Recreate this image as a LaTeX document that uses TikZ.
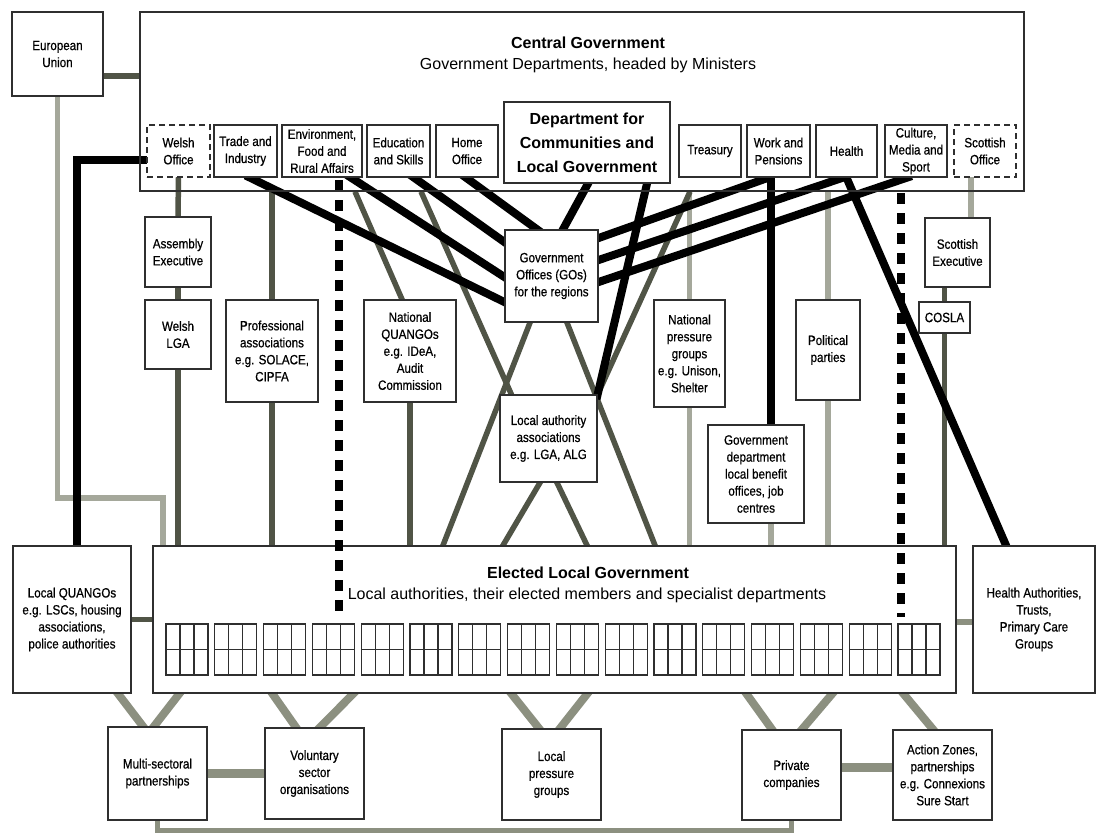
\documentclass[tikz,border=0pt]{standalone}
\usepackage{fontspec}
\setmainfont{Liberation Sans}
\newfontfamily\narrowsf[FakeStretch=0.86,FakeBold=0.6]{Liberation Sans}
\usetikzlibrary{backgrounds}
\definecolor{dk}{HTML}{505446}
\definecolor{lt}{HTML}{A5A89B}
\definecolor{md}{HTML}{8C9080}
\definecolor{bd}{HTML}{2F2F2F}
\tikzset{
  box/.style={draw=bd,line width=1.3pt,fill=white,inner sep=1pt,align=center,
    font=\narrowsf\fontsize{13.5}{17}\selectfont},
  dbox/.style={dash pattern=on 6pt off 4pt},
  dkline/.style={draw=dk,line width=5.5pt},
  ltline/.style={draw=lt,line width=5.5pt},
  mdline/.style={draw=md,line width=8pt},
  blk/.style={draw=black,line width=8pt},
  dotline/.style={draw=black,line width=8.5pt,dash pattern=on 11pt off 9pt},
  xe/.style={shorten >=-5pt},
  xb/.style={shorten >=-5pt,shorten <=-5pt},
  bigt/.style={font=\bfseries\fontsize{16}{24}\selectfont},
  cellgrid/.style={draw=bd,line width=1.1pt}
}
\newcommand\gbox[7][]{%
  \pgfmathsetmacro\myW{#5-#3}\pgfmathsetmacro\myH{#6-#4}%
  \pgfmathsetmacro\myX{(#3+#5)/2}\pgfmathsetmacro\myY{(#4+#6)/2}%
  \node[box,minimum width=\myW pt,minimum height=\myH pt,#1] (#2) at (\myX,\myY) {#7};}
\begin{document}
\begin{tikzpicture}[x=1pt,y=-1pt]
\useasboundingbox (0,0) rectangle (1104,835);
\coordinate (dLa) at (339,180); \coordinate (dLb) at (339,617);
\coordinate (dRa) at (901,193); \coordinate (dRb) at (901,617);
\coordinate (eubend) at (163,498);
\coordinate (wbend) at (77,160);
\coordinate (loopy) at (0,830);
% ---------- top ----------
\gbox{eu}{12}{12}{103}{96}{European\\Union}
\gbox[fill=none]{cg}{140}{12}{1024}{191}{}
\node[bigt] (cgt) at (588,43) {Central Government};
\node[font=\fontsize{16}{19}\selectfont] (cgs) at (588,65) {Government Departments, headed by Ministers};
\gbox[dbox]{wo}{147}{125}{210}{177}{Welsh\\Office}
\gbox{ti}{214}{125}{277}{177}{Trade and\\Industry}
\gbox{env}{282}{125}{362}{177}{Environment,\\Food and\\Rural Affairs}
\gbox{edu}{367}{125}{430}{177}{Education\\and Skills}
\gbox{ho}{436}{125}{498}{177}{Home\\Office}
\gbox[font=\bfseries\fontsize{16}{24}\selectfont]{dclg}{504}{102}{670}{183}{Department for\\Communities and\\Local Government}
\gbox{tr}{679}{125}{741}{177}{Treasury}
\gbox{wp}{747}{125}{810}{177}{Work and\\Pensions}
\gbox{he}{816}{125}{877}{177}{Health}
\gbox{cu}{885}{125}{947}{177}{Culture,\\Media and\\Sport}
\gbox[dbox]{so}{954}{125}{1016}{177}{Scottish\\Office}
% ---------- middle ----------
\gbox{ae}{145}{217}{211}{287}{Assembly\\Executive}
\gbox{wlga}{145}{300}{211}{369}{Welsh\\LGA}
\gbox{pa}{226}{300}{318}{402}{Professional\\associations\\e.g. SOLACE,\\CIPFA}
\gbox{nq}{364}{300}{456}{402}{National\\QUANGOs\\e.g. IDeA,\\Audit\\Commission}
\gbox{go}{505}{230}{598}{322}{Government\\Offices (GOs)\\for the regions}
\gbox{laa}{500}{395}{597}{482}{Local authority\\associations\\e.g. LGA, ALG}
\gbox{npg}{654}{300}{725}{407}{National\\pressure\\groups\\e.g. Unison,\\Shelter}
\gbox{gd}{708}{425}{804}{523}{Government\\department\\local benefit\\offices, job\\centres}
\gbox{pp}{796}{300}{860}{400}{Political\\parties}
\gbox{se}{925}{218}{990}{287}{Scottish\\Executive}
\gbox{cosla}{919}{302}{970}{333}{COSLA}
% ---------- lower ----------
\gbox{lq}{13}{546}{131}{693}{Local QUANGOs\\e.g. LSCs, housing\\associations,\\police authorities}
\gbox{elg}{153}{546}{956}{693}{}
\node[bigt] (elgt) at (588,573) {Elected Local Government};
\node[font=\fontsize{16}{19}\selectfont] (elgs) at (587,595) {Local authorities, their elected members and specialist departments};
\foreach \i in {0,...,15}{
  \pgfmathsetmacro\myGX{166+48.8*\i}
  \draw[cellgrid] (\myGX,624) rectangle ++(42,51);
  \draw[cellgrid] (\myGX+14,624) -- ++(0,51) (\myGX+28,624) -- ++(0,51) (\myGX,649.5) -- ++(42,0);
}
\begin{scope}
  \clip (elg.north west) rectangle (elg.south east);
  \draw[dotline] (dLa) -- (dLb);
  \draw[dotline] (dRa) -- (dRb);
\end{scope}
\gbox{ha}{973}{546}{1095}{693}{Health Authorities,\\Trusts,\\Primary Care\\Groups}
% ---------- bottom ----------
\gbox{ms}{108}{727}{207}{820}{Multi-sectoral\\partnerships}
\gbox{vs}{265}{728}{364}{819}{Voluntary\\sector\\organisations}
\gbox{lpg}{502}{729}{601}{820}{Local\\pressure\\groups}
\gbox{pc}{742}{730}{841}{820}{Private\\companies}
\gbox{az}{893}{730}{992}{820}{Action Zones,\\partnerships\\e.g. Connexions\\Sure Start}
% ---------- connectors ----------
\begin{pgfonlayer}{background}
\fill[white] (0,0) rectangle (1104,835);
% light grey
\draw[ltline,xe] (eu.south) |- (eubend) -- (eubend |- elg.north);
\draw[ltline,xe] (npg.north |- cg.south) -- (npg.north);
\draw[ltline,xb] (npg.south) -- (npg.south |- elg.north);
\draw[ltline,xb] ([xshift=15pt]gd.south) -- ([xshift=15pt]gd.south |- elg.north);
\draw[ltline,xe] (pp.north |- cg.south) -- (pp.north);
\draw[ltline,xb] (pp.south) -- (pp.south |- elg.north);
\draw[ltline,xb] ([xshift=-14pt]so.south) -- ([xshift=-14pt]so.south |- se.north);
% dark grey
\draw[dkline] ([yshift=-22pt]eu.east) -- ([yshift=-22pt]eu.east -| cg.west);
\draw[dkline,xb] (wo.south) -- (ae.north);
\draw[dkline,xb] (ae.south) -- (wlga.north);
\draw[dkline,xb] (wlga.south) -- (wlga.south |- elg.north);
\draw[dkline,xe] (pa.north |- cg.south) -- (pa.north);
\draw[dkline,xb] (pa.south) -- (pa.south |- elg.north);
\draw[dkline,xe] ([xshift=33pt]env.south |- cg.south) -- ([xshift=-8pt]nq.north);
\draw[dkline,xb] (nq.south) -- (nq.south |- elg.north);
\draw[dkline,xe] ([xshift=22.5pt]edu.south |- cg.south) -- ([xshift=12pt]laa.north west);
\draw[dkline,xb] ([xshift=-21.5pt]go.south) -- ([xshift=-111.5pt]elg.north);
\draw[dkline,xb] ([xshift=15.5pt]go.south) -- ([xshift=100.5pt]elg.north);
\draw[dkline,xe] ([xshift=-20pt]tr.south |- cg.south) -- (laa.north east);
\draw[dkline,xb] ([xshift=-8.5pt]laa.south) -- ([xshift=-51.5pt]elg.north);
\draw[dkline,xb] ([xshift=8.5pt]laa.south) -- ([xshift=32.5pt]elg.north);
\draw[dkline,xb] (cosla.north |- se.south) -- (cosla.north);
\draw[dkline,xb] (cosla.south) -- (cosla.south |- elg.north);
\draw[dkline] (lq.east) -- (lq.east -| elg.west);
\draw[mdline,line width=6pt] ([yshift=-2.5pt]elg.east) -- ([yshift=-2.5pt]elg.east -| ha.west);
% bottom
\draw[mdline,xb] ([xshift=46pt]lq.south) -- ([xshift=-14.5pt]ms.north);
\draw[mdline,xb] ([xshift=27pt]elg.south west) -- ([xshift=-3.5pt]ms.north);
\draw[mdline,xb] ([xshift=120pt]elg.south west) -- ([xshift=-18.5pt]vs.north);
\draw[mdline,xb] ([xshift=201pt]elg.south west) -- ([xshift=5.5pt]vs.north);
\draw[mdline,xb] ([xshift=359pt]elg.south west) -- ([xshift=-12.5pt]lpg.north);
\draw[mdline,xb] ([xshift=435pt]elg.south west) -- ([xshift=8.5pt]lpg.north);
\draw[mdline,xb] ([xshift=594pt]elg.south west) -- ([xshift=-19.5pt]pc.north);
\draw[mdline,xb] ([xshift=680pt]elg.south west) -- ([xshift=10.5pt]pc.north);
\draw[mdline,xb] ([xshift=751pt]elg.south west) -- ([xshift=-9.5pt]az.north);
\draw[mdline,line width=9pt] (ms.east) -- (ms.east -| vs.west);
\draw[mdline,line width=9pt] ([yshift=8pt]pc.east) -- ([yshift=8pt]pc.east -| az.west);
\draw[mdline,line width=5pt] (ms.south) -- (ms.south |- loopy) -| (pc.south);
% dotted dividers
\draw[dotline] (dLa) -- (dLb);
\draw[dotline] (dRa) -- (dRb);
% black
\draw[blk,xb] ([yshift=-9pt]wo.west) -- (wbend) -- (wbend |- lq.north);
\draw[blk,xb] ([xshift=4.5pt]ti.south) -- ([yshift=-26pt]go.west);
\draw[blk,xb] ([xshift=29pt]env.south) -- ([yshift=-1pt]go.west);
\draw[blk,xb] ([xshift=15.5pt]edu.south) -- ([yshift=34pt]go.west);
\draw[blk,xb] ([xshift=-1pt]ho.south) -- ([xshift=-14.5pt]go.north);
\draw[blk,xb] ([xshift=1pt]dclg.south) -- ([xshift=11.5pt]go.north);
\draw[blk,xb] ([xshift=60pt]dclg.south) -- (laa.north east);
\draw[blk,xb] ([yshift=38pt]go.east) -- ([xshift=-10pt]wp.south);
\draw[blk,xb] ([yshift=16pt]go.east) -- ([xshift=-3.5pt]he.south);
\draw[blk,xb] ([yshift=-6pt]go.east) -- ([xshift=-9pt]cu.south);
\draw[blk,xb] ([xshift=-7.5pt]wp.south) -- ([xshift=-7.5pt]wp.south |- gd.north);
\draw[blk,xb] (he.south) -- ([xshift=-28pt]ha.north);
\end{pgfonlayer}
\end{tikzpicture}
\end{document}
